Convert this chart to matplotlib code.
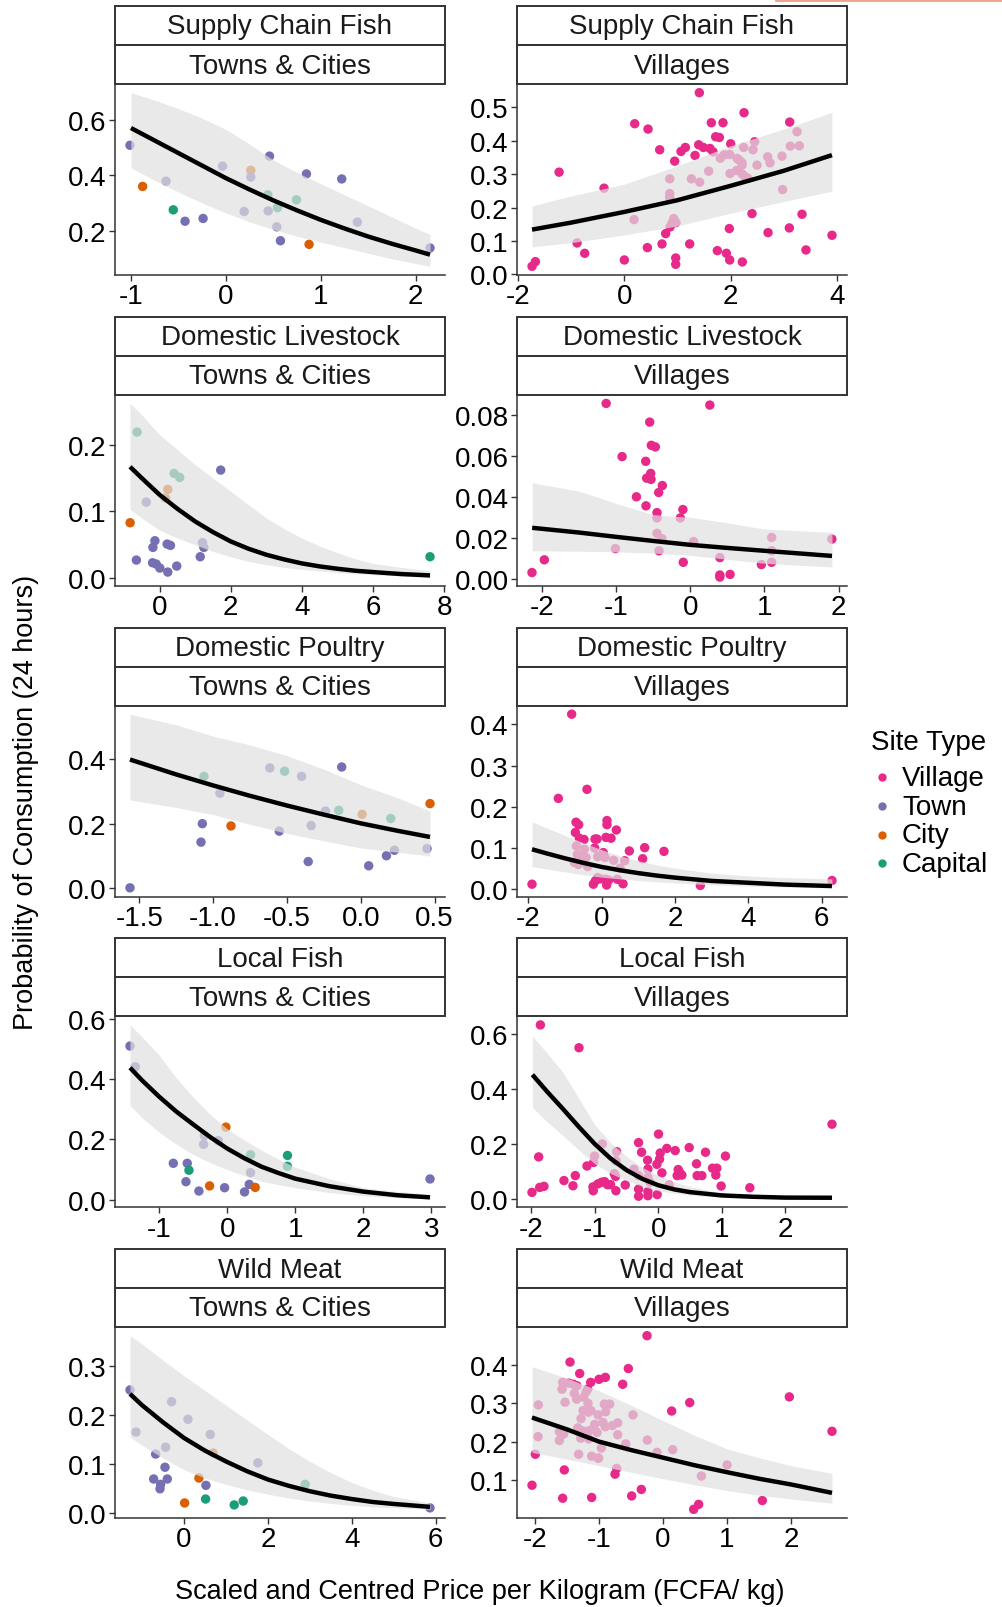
import matplotlib
matplotlib.use("Agg")
import matplotlib.pyplot as plt
from matplotlib.patches import Rectangle
from matplotlib.lines import Line2D

plt.rcParams['font.family'] = ['Liberation Sans', 'DejaVu Sans']

# ---------------- data ----------------
site_types = ['Village', 'Town', 'City', 'Capital']
site_colors = ['#E7298A', '#7570B3', '#D95F02', '#1B9E77']
food_groups = ['Supply Chain Fish', 'Domestic Livestock', 'Domestic Poultry', 'Local Fish', 'Wild Meat']
settlements = ['Towns & Cities', 'Villages']

# Supply Chain Fish - Towns & Cities
scf_tc_x = [-1.01, -0.877, -0.63, -0.554, -0.43, -0.24, -0.035, 0.193, 0.263, 0.263, 0.46, 0.442, 0.446,
            0.544, 0.537, 0.575, 0.744, 0.849, 0.877, 1.221, 1.386, 2.151]
scf_tc_y = [0.508, 0.36, 0.379, 0.276, 0.235, 0.245, 0.433, 0.27, 0.418, 0.394, 0.469, 0.33, 0.272,
            0.284, 0.215, 0.165, 0.312, 0.405, 0.152, 0.387, 0.232, 0.139]
scf_tc_site = ['Town', 'City', 'Town', 'Capital', 'Town', 'Town', 'Town', 'Town', 'City', 'Town', 'Town',
               'Capital', 'Town', 'Capital', 'Town', 'Town', 'Capital', 'Town', 'City', 'Town', 'Town', 'Town']
scf_tc_fx = [-1.0, -0.75, -0.5, -0.25, 0.0, 0.25, 0.5, 0.75, 1.0, 1.25, 1.5, 1.75, 2.0, 2.151]
scf_tc_fit = [0.570, 0.525, 0.48, 0.435, 0.39, 0.349, 0.31, 0.274, 0.24, 0.209, 0.18, 0.154, 0.13, 0.115]
scf_tc_lo = [0.427, 0.382, 0.34, 0.301, 0.265, 0.233, 0.205, 0.181, 0.16, 0.14, 0.12, 0.1, 0.083, 0.073]
scf_tc_hi = [0.697, 0.67, 0.64, 0.605, 0.565, 0.512, 0.455, 0.41, 0.37, 0.33, 0.29, 0.25, 0.21, 0.188]

# Supply Chain Fish - Villages
scf_v_x = [-1.739, -1.676, -1.23, -0.891, -0.747, -0.383, 0.0, 0.195, 0.182, 0.433, 0.446, 0.665, 0.709,
           0.778, 0.854, 0.854, 0.854, 0.86, 0.898, 0.929, 0.948, 0.967, 0.967, 0.973, 1.067, 1.149, 1.23,
           1.262, 1.331, 1.4, 1.419, 1.412, 1.488, 1.588, 1.613, 1.638, 1.67, 1.72, 1.751, 1.789, 1.808,
           1.858, 1.883, 1.921, 1.977, 1.984, 1.99, 1.984, 2.003, 2.116, 2.122, 2.166, 2.216, 2.216, 2.222,
           2.247, 2.254, 2.222, 2.279, 2.323, 2.404, 2.423, 2.454, 2.498, 2.699, 2.706, 2.743, 2.969, 2.982,
           3.107, 3.114, 3.126, 3.252, 3.296, 3.346, 3.421, 3.911]
scf_v_y = [0.024, 0.038, 0.306, 0.094, 0.063, 0.258, 0.043, 0.451, 0.164, 0.08, 0.435, 0.373, 0.091,
           0.122, 0.286, 0.242, 0.23, 0.142, 0.154, 0.167, 0.339, 0.049, 0.03, 0.155, 0.368, 0.38, 0.091,
           0.286, 0.356, 0.388, 0.276, 0.544, 0.38, 0.309, 0.377, 0.454, 0.367, 0.412, 0.071, 0.41, 0.348,
           0.454, 0.358, 0.063, 0.137, 0.359, 0.302, 0.043, 0.391, 0.311, 0.347, 0.342, 0.334, 0.327, 0.037,
           0.38, 0.484, 0.3, 0.292, 0.288, 0.182, 0.373, 0.397, 0.327, 0.352, 0.125, 0.334, 0.354, 0.254,
           0.139, 0.456, 0.384, 0.427, 0.385, 0.18, 0.073, 0.117]
scf_v_fx = [-1.74, -1.0, 0.0, 1.0, 2.0, 3.0, 3.91]
scf_v_fit = [0.134, 0.155, 0.187, 0.222, 0.265, 0.31, 0.357]
scf_v_lo = [0.082, 0.095, 0.118, 0.145, 0.183, 0.218, 0.249]
scf_v_hi = [0.205, 0.235, 0.27, 0.325, 0.385, 0.435, 0.485]

# Domestic Livestock - Towns & Cities
dl_tc_x = [-0.632, 1.719, 0.409, 0.567, 0.232, 0.167, -0.372, -0.827, -0.13, -0.186, -0.651, -0.195,
           -0.093, 0.009, 0.214, 0.307, 0.232, 0.483, 1.143, 1.208, 1.245, 7.6]
dl_tc_y = [0.219, 0.162, 0.157, 0.151, 0.133, 0.12, 0.114, 0.083, 0.056, 0.046, 0.027, 0.023,
           0.021, 0.015, 0.051, 0.049, 0.009, 0.018, 0.032, 0.053, 0.046, 0.032]
dl_tc_site = ['Capital', 'Town', 'Capital', 'Capital', 'City', 'City', 'Town', 'City', 'Town', 'Town', 'Town',
              'Town', 'Town', 'Town', 'Town', 'Town', 'Town', 'Town', 'Town', 'Town', 'Town', 'Capital']
dl_tc_fx = [-0.83, -0.5, 0.0, 0.5, 1.0, 1.5, 2.0, 2.5, 3.0, 3.5, 4.0, 4.5, 5.0, 5.5, 6.0, 6.8, 7.6]
dl_tc_fit = [0.167, 0.150, 0.125, 0.104, 0.085, 0.069, 0.055, 0.044, 0.035, 0.028, 0.022, 0.0175, 0.014,
             0.011, 0.009, 0.006, 0.004]
dl_tc_lo = [0.103, 0.09, 0.072, 0.06, 0.05, 0.04, 0.032, 0.025, 0.02, 0.016, 0.013, 0.0105, 0.008,
            0.0065, 0.005, 0.003, 0.0015]
dl_tc_hi = [0.262, 0.245, 0.215, 0.193, 0.17, 0.15, 0.13, 0.11, 0.09, 0.074, 0.06, 0.048, 0.038,
            0.029, 0.022, 0.016, 0.011]

# Domestic Livestock - Villages
dl_v_x = [-2.132, -1.966, -1.133, -0.918, -0.6, -0.725, -0.546, -0.524, -0.47, -0.533, -0.587, -0.528,
          -0.596, -0.376, -0.425, -0.448, -0.448, -0.448, -0.381, -0.421, -1.008, -0.099, -0.134, -0.094,
          0.045, 0.264, 0.399, 0.399, 0.399, 0.537, 0.958, 1.097, 1.097, 1.097, 1.908]
dl_v_y = [0.0033, 0.0095, 0.0857, 0.0598, 0.0575, 0.0402, 0.0766, 0.0653, 0.0645, 0.0516, 0.0493, 0.0487,
          0.0358, 0.0457, 0.0423, 0.0325, 0.0299, 0.0224, 0.0198, 0.0139, 0.015, 0.034, 0.0299, 0.0083,
          0.0184, 0.0849, 0.0106, 0.0021, 0.0011, 0.0024, 0.0072, 0.0204, 0.0139, 0.0083, 0.0196]
dl_v_fx = [-2.13, -1.5, -1.0, -0.5, 0.0, 0.5, 1.0, 1.91]
dl_v_fit = [0.0251, 0.0228, 0.0207, 0.0187, 0.0168, 0.0153, 0.0139, 0.0114]
dl_v_lo = [0.0139, 0.0137, 0.0134, 0.0128, 0.0117, 0.0098, 0.0078, 0.006]
dl_v_hi = [0.047, 0.043, 0.037, 0.0315, 0.0302, 0.0275, 0.0245, 0.0229]

# Domestic Poultry - Towns & Cities
dp_tc_x = [-1.563, -1.082, -1.073, -1.062, -0.954, -0.879, -0.616, -0.552, -0.516, -0.401, -0.356, -0.336,
           -0.239, -0.149, -0.129, 0.009, 0.054, 0.174, 0.203, 0.228, 0.449, 0.469]
dp_tc_y = [0.002, 0.143, 0.2, 0.346, 0.294, 0.193, 0.372, 0.177, 0.362, 0.346, 0.083, 0.194,
           0.239, 0.241, 0.375, 0.229, 0.07, 0.101, 0.216, 0.118, 0.123, 0.262]
dp_tc_site = ['Town', 'Town', 'Town', 'Capital', 'Town', 'City', 'Town', 'Town', 'Capital', 'Town', 'Town',
              'Town', 'Town', 'Capital', 'Town', 'City', 'Town', 'Town', 'Capital', 'Town', 'Town', 'City']
dp_tc_fx = [-1.563, -1.25, -1.0, -0.75, -0.5, -0.25, 0.0, 0.25, 0.469]
dp_tc_fit = [0.398, 0.352, 0.318, 0.286, 0.256, 0.228, 0.201, 0.178, 0.159]
dp_tc_lo = [0.273, 0.25, 0.228, 0.198, 0.17, 0.147, 0.125, 0.112, 0.1]
dp_tc_hi = [0.538, 0.505, 0.47, 0.443, 0.41, 0.368, 0.32, 0.28, 0.239]

# Domestic Poultry - Villages
dp_v_x = [-1.9, -0.818, -1.182, -0.4, -0.7, -0.627, -0.718, -0.609, -0.482, -0.691, -0.473, -0.664, -0.564,
          -0.427, -0.745, -0.636, -0.382, -0.182, -0.127, -0.191, -0.109, 0.045, 0.091, 0.145, 0.145, 0.118,
          0.255, 0.4, 0.327, 0.627, 0.5, 0.755, 1.173, 1.118, 1.7, -0.227, -0.173, -0.109, -0.036, 0.109,
          0.136, 0.191, 0.427, 0.582, 2.691, 6.282]
dp_v_y = [0.011, 0.425, 0.22, 0.242, 0.162, 0.156, 0.137, 0.123, 0.12, 0.104, 0.096, 0.083, 0.078,
          0.076, 0.064, 0.059, 0.054, 0.121, 0.121, 0.099, 0.078, 0.088, 0.076, 0.166, 0.156, 0.125,
          0.123, 0.143, 0.069, 0.068, 0.05, 0.092, 0.1, 0.073, 0.091, 0.011, 0.019, 0.027, 0.024, 0.023,
          0.009, 0.021, 0.023, 0.012, 0.008, 0.02]
dp_v_fx = [-1.9, -1.5, -1.0, -0.5, 0.0, 0.5, 1.0, 1.5, 2.0, 3.0, 4.0, 5.0, 6.28]
dp_v_fit = [0.096, 0.086, 0.074, 0.063, 0.053, 0.045, 0.038, 0.032, 0.027, 0.019, 0.0145, 0.010, 0.0065]
dp_v_lo = [0.054, 0.048, 0.041, 0.034, 0.028, 0.024, 0.02, 0.017, 0.014, 0.0095, 0.0065, 0.004, 0.0022]
dp_v_hi = [0.163, 0.148, 0.13, 0.112, 0.095, 0.08, 0.068, 0.058, 0.05, 0.038, 0.031, 0.027, 0.024]

# Local Fish - Towns & Cities
lf_tc_x = [-1.428, -1.35, -0.792, -0.587, -0.562, -0.606, -0.416, -0.337, -0.347, -0.132, -0.259, -0.039,
           -0.02, 0.254, 0.323, 0.342, 0.342, 0.411, 0.885, 0.885, 2.978]
lf_tc_y = [0.51, 0.441, 0.121, 0.121, 0.098, 0.06, 0.029, 0.213, 0.184, 0.196, 0.046, 0.04,
           0.241, 0.026, 0.051, 0.09, 0.149, 0.041, 0.147, 0.111, 0.069]
lf_tc_site = ['Town', 'Town', 'Town', 'Town', 'Capital', 'Town', 'Town', 'Town', 'Town', 'Town', 'City', 'Town',
              'City', 'Town', 'Town', 'Town', 'Capital', 'City', 'Capital', 'Capital', 'Town']
lf_tc_fx = [-1.428, -1.25, -1.0, -0.75, -0.5, -0.25, 0.0, 0.25, 0.5, 0.75, 1.0, 1.5, 2.0, 2.5, 2.978]
lf_tc_fit = [0.438, 0.396, 0.342, 0.293, 0.25, 0.208, 0.17, 0.138, 0.11, 0.089, 0.07, 0.045, 0.027, 0.015, 0.008]
lf_tc_lo = [0.313, 0.272, 0.224, 0.185, 0.15, 0.123, 0.1, 0.08, 0.062, 0.05, 0.04, 0.024, 0.013, 0.007, 0.004]
lf_tc_hi = [0.58, 0.54, 0.48, 0.405, 0.34, 0.283, 0.235, 0.198, 0.165, 0.135, 0.108, 0.07, 0.04, 0.027, 0.019]

# Local Fish - Villages
lf_v_x = [-1.99, -1.885, -1.858, -1.869, -1.801, -1.486, -1.344, -1.307, -1.249, -1.123, -1.029, -1.024,
          -1.018, -1.003, -0.95, -0.882, -0.892, -0.845, -0.798, -0.751, -0.693, -0.667, -0.667, -0.656,
          -0.672, -0.52, -0.383, -0.31, -0.31, -0.31, -0.31, -0.262, -0.168, -0.163, -0.163, -0.163, -0.163,
          -0.131, -0.021, 0.021, 0.031, 0.005, -0.016, 0.058, 0.136, 0.173, 0.268, 0.299, 0.315, 0.336,
          0.373, 0.488, 0.604, 0.614, 0.688, 0.745, 0.856, 0.924, 0.908, 0.992, 1.06, 1.444, 2.74]
lf_v_y = [0.024, 0.153, 0.633, 0.042, 0.046, 0.067, 0.048, 0.085, 0.55, 0.12, 0.044, 0.03,
          0.133, 0.156, 0.055, 0.2, 0.061, 0.063, 0.052, 0.052, 0.092, 0.03, 0.139, 0.172,
          0.082, 0.051, 0.108, 0.205, 0.085, 0.036, 0.01, 0.17, 0.141, 0.109, 0.079, 0.027, 0.012,
          0.061, 0.126, 0.145, 0.167, 0.236, 0.016, 0.095, 0.184, 0.051, 0.176, 0.085, 0.107, 0.097,
          0.087, 0.187, 0.128, 0.085, 0.085, 0.17, 0.112, 0.112, 0.087, 0.047, 0.156, 0.041, 0.272]
lf_v_fx = [-1.984, -1.75, -1.5, -1.25, -1.0, -0.75, -0.5, -0.25, 0.0, 0.25, 0.5, 1.0, 1.5, 2.0, 2.74]
lf_v_fit = [0.452, 0.39, 0.327, 0.262, 0.2, 0.147, 0.105, 0.073, 0.05, 0.035, 0.025, 0.013, 0.008, 0.005, 0.0045]
lf_v_lo = [0.333, 0.28, 0.23, 0.178, 0.128, 0.093, 0.067, 0.046, 0.03, 0.021, 0.014, 0.006, 0.003, 0.002, 0.0015]
lf_v_hi = [0.592, 0.53, 0.46, 0.365, 0.27, 0.205, 0.155, 0.115, 0.085, 0.062, 0.045, 0.022, 0.012, 0.008, 0.006]

# Wild Meat - Towns & Cities
wm_tc_x = [-1.286, -1.143, -0.675, -0.722, -0.571, -0.556, -0.452, -0.437, -0.397, -0.294, 0.095, 0.016,
           0.357, 0.524, 0.516, 0.627, 0.698, 1.198, 1.413, 1.762, 2.889, 5.865]
wm_tc_y = [0.251, 0.165, 0.12, 0.069, 0.049, 0.058, 0.093, 0.134, 0.069, 0.227, 0.191, 0.02,
           0.071, 0.056, 0.028, 0.16, 0.122, 0.016, 0.024, 0.102, 0.058, 0.01]
wm_tc_site = ['Town', 'Town', 'Town', 'Town', 'Town', 'Town', 'Town', 'Town', 'Town', 'Town', 'Town', 'City',
              'City', 'Town', 'Capital', 'Town', 'City', 'Capital', 'Capital', 'Town', 'Capital', 'Town']
wm_tc_fx = [-1.286, -1.0, -0.5, 0.0, 0.5, 1.0, 1.5, 2.0, 2.5, 3.0, 3.5, 4.0, 4.5, 5.0, 5.865]
wm_tc_fit = [0.243, 0.22, 0.185, 0.153, 0.127, 0.105, 0.085, 0.068, 0.055, 0.044, 0.035, 0.028, 0.022,
             0.018, 0.012]
wm_tc_lo = [0.155, 0.138, 0.112, 0.088, 0.071, 0.058, 0.047, 0.038, 0.03, 0.024, 0.019, 0.015, 0.012,
            0.01, 0.007]
wm_tc_hi = [0.362, 0.345, 0.312, 0.28, 0.25, 0.22, 0.19, 0.16, 0.131, 0.105, 0.082, 0.062, 0.046,
            0.033, 0.02]

# Wild Meat - Villages
wm_v_x = [-2.047, -1.995, -1.948, -1.953, -1.62, -1.62, -1.578, -1.568, -1.542, -1.531, -1.552, -1.568,
          -1.474, -1.453, -1.401, -1.385, -1.344, -1.349, -1.333, -1.318, -1.302, -1.281, -1.286, -1.255,
          -1.25, -1.24, -1.203, -1.198, -1.177, -1.172, -1.167, -1.161, -1.151, -1.13, -1.115, -1.115,
          -1.125, -1.068, -1.031, -1.016, -1.016, -1.0, -1.005, -0.964, -0.938, -0.917, -0.901, -0.896,
          -0.901, -0.833, -0.792, -0.724, -0.708, -0.708, -0.75, -0.63, -0.583, -0.542, -0.49, -0.469,
          -0.339, -0.25, -0.245, -0.094, 0.135, 0.151, 0.417, 0.479, 0.557, 0.599, 1.0, 1.552, 1.974, 2.64]
wm_v_y = [0.086, 0.167, 0.296, 0.213, 0.226, 0.203, 0.337, 0.355, 0.126, 0.303, 0.22, 0.052,
          0.353, 0.408, 0.35, 0.326, 0.346, 0.311, 0.236, 0.167, 0.378, 0.26, 0.209, 0.228,
          0.281, 0.316, 0.33, 0.224, 0.337, 0.3, 0.277, 0.207, 0.229, 0.355, 0.054, 0.162,
          0.281, 0.245, 0.224, 0.27, 0.157, 0.363, 0.157, 0.183, 0.25, 0.298, 0.368, 0.278,
          0.239, 0.298, 0.242, 0.13, 0.249, 0.218, 0.115, 0.35, 0.194, 0.391, 0.058, 0.27,
          0.075, 0.477, 0.204, 0.172, 0.28, 0.179, 0.302, 0.023, 0.036, 0.11, 0.139, 0.046, 0.317, 0.227]
wm_v_fx = [-2.047, -1.5, -1.0, -0.5, 0.0, 0.5, 1.0, 1.5, 2.0, 2.64]
wm_v_fit = [0.263, 0.232, 0.2, 0.178, 0.158, 0.138, 0.12, 0.103, 0.088, 0.066]
wm_v_lo = [0.172, 0.154, 0.137, 0.12, 0.103, 0.087, 0.072, 0.06, 0.05, 0.039]
wm_v_hi = [0.396, 0.366, 0.333, 0.295, 0.255, 0.216, 0.181, 0.158, 0.137, 0.117]

# axis ticks
scf_tc_xt, scf_tc_xl = [-1, 0, 1, 2], ['-1', '0', '1', '2']
scf_tc_yt, scf_tc_yl = [0.2, 0.4, 0.6], ['0.2', '0.4', '0.6']
scf_v_xt, scf_v_xl = [-2, 0, 2, 4], ['-2', '0', '2', '4']
scf_v_yt, scf_v_yl = [0, 0.1, 0.2, 0.3, 0.4, 0.5], ['0.0', '0.1', '0.2', '0.3', '0.4', '0.5']
dl_tc_xt, dl_tc_xl = [0, 2, 4, 6, 8], ['0', '2', '4', '6', '8']
dl_tc_yt, dl_tc_yl = [0, 0.1, 0.2], ['0.0', '0.1', '0.2']
dl_v_xt, dl_v_xl = [-2, -1, 0, 1, 2], ['-2', '-1', '0', '1', '2']
dl_v_yt, dl_v_yl = [0, 0.02, 0.04, 0.06, 0.08], ['0.00', '0.02', '0.04', '0.06', '0.08']
dp_tc_xt, dp_tc_xl = [-1.5, -1.0, -0.5, 0.0, 0.5], ['-1.5', '-1.0', '-0.5', '0.0', '0.5']
dp_tc_yt, dp_tc_yl = [0, 0.2, 0.4], ['0.0', '0.2', '0.4']
dp_v_xt, dp_v_xl = [-2, 0, 2, 4, 6], ['-2', '0', '2', '4', '6']
dp_v_yt, dp_v_yl = [0, 0.1, 0.2, 0.3, 0.4], ['0.0', '0.1', '0.2', '0.3', '0.4']
lf_tc_xt, lf_tc_xl = [-1, 0, 1, 2, 3], ['-1', '0', '1', '2', '3']
lf_tc_yt, lf_tc_yl = [0, 0.2, 0.4, 0.6], ['0.0', '0.2', '0.4', '0.6']
lf_v_xt, lf_v_xl = [-2, -1, 0, 1, 2], ['-2', '-1', '0', '1', '2']
lf_v_yt, lf_v_yl = [0, 0.2, 0.4, 0.6], ['0.0', '0.2', '0.4', '0.6']
wm_tc_xt, wm_tc_xl = [0, 2, 4, 6], ['0', '2', '4', '6']
wm_tc_yt, wm_tc_yl = [0, 0.1, 0.2, 0.3], ['0.0', '0.1', '0.2', '0.3']
wm_v_xt, wm_v_xl = [-2, -1, 0, 1, 2], ['-2', '-1', '0', '1', '2']
wm_v_yt, wm_v_yl = [0.1, 0.2, 0.3, 0.4], ['0.1', '0.2', '0.3', '0.4']

# ---------------- build panel table ----------------
panels = [
    (food_groups[0], settlements[0], scf_tc_x, scf_tc_y, scf_tc_site, scf_tc_fx, scf_tc_fit, scf_tc_lo, scf_tc_hi, scf_tc_xt, scf_tc_xl, scf_tc_yt, scf_tc_yl),
    (food_groups[0], settlements[1], scf_v_x, scf_v_y, None, scf_v_fx, scf_v_fit, scf_v_lo, scf_v_hi, scf_v_xt, scf_v_xl, scf_v_yt, scf_v_yl),
    (food_groups[1], settlements[0], dl_tc_x, dl_tc_y, dl_tc_site, dl_tc_fx, dl_tc_fit, dl_tc_lo, dl_tc_hi, dl_tc_xt, dl_tc_xl, dl_tc_yt, dl_tc_yl),
    (food_groups[1], settlements[1], dl_v_x, dl_v_y, None, dl_v_fx, dl_v_fit, dl_v_lo, dl_v_hi, dl_v_xt, dl_v_xl, dl_v_yt, dl_v_yl),
    (food_groups[2], settlements[0], dp_tc_x, dp_tc_y, dp_tc_site, dp_tc_fx, dp_tc_fit, dp_tc_lo, dp_tc_hi, dp_tc_xt, dp_tc_xl, dp_tc_yt, dp_tc_yl),
    (food_groups[2], settlements[1], dp_v_x, dp_v_y, None, dp_v_fx, dp_v_fit, dp_v_lo, dp_v_hi, dp_v_xt, dp_v_xl, dp_v_yt, dp_v_yl),
    (food_groups[3], settlements[0], lf_tc_x, lf_tc_y, lf_tc_site, lf_tc_fx, lf_tc_fit, lf_tc_lo, lf_tc_hi, lf_tc_xt, lf_tc_xl, lf_tc_yt, lf_tc_yl),
    (food_groups[3], settlements[1], lf_v_x, lf_v_y, None, lf_v_fx, lf_v_fit, lf_v_lo, lf_v_hi, lf_v_xt, lf_v_xl, lf_v_yt, lf_v_yl),
    (food_groups[4], settlements[0], wm_tc_x, wm_tc_y, wm_tc_site, wm_tc_fx, wm_tc_fit, wm_tc_lo, wm_tc_hi, wm_tc_xt, wm_tc_xl, wm_tc_yt, wm_tc_yl),
    (food_groups[4], settlements[1], wm_v_x, wm_v_y, None, wm_v_fx, wm_v_fit, wm_v_lo, wm_v_hi, wm_v_xt, wm_v_xl, wm_v_yt, wm_v_yl),
]

color_of = dict(zip(site_types, site_colors))

W, H = 1003, 1608
fig = plt.figure(figsize=(W / 100, H / 100), dpi=100)
col_x = [115, 517]
ax_w = 330
strip_h = 39
edge = '#333333'
fs = 20

for i, (grp, sett, xs, ys, sites, fx, fit, lo, hi, xt, xl, yt, yl) in enumerate(panels):
    r, c = divmod(i, 2)
    top = 85 + 310.75 * r
    bot = top + 191
    x0 = col_x[c]
    ax = fig.add_axes([x0 / W, 1 - bot / H, ax_w / W, (bot - top) / H])
    if sites is None:
        cols = [color_of['Village']] * len(xs)
    else:
        cols = [color_of[s] for s in sites]
    ax.scatter(xs, ys, s=46, c=cols, linewidths=0, zorder=2)
    ax.fill_between(fx, lo, hi, color='#E0E0E0', alpha=0.7, linewidth=0, zorder=3)
    ax.plot(fx, fit, color='black', lw=3.2, zorder=4, solid_capstyle='butt', solid_joinstyle='round')
    ax.margins(0.05)
    ax.set_xticks(xt)
    ax.set_xticklabels(xl)
    ax.set_yticks(yt)
    ax.set_yticklabels(yl)
    for s in ['top', 'right']:
        ax.spines[s].set_visible(False)
    for s in ['left', 'bottom']:
        ax.spines[s].set_color(edge)
        ax.spines[s].set_linewidth(1.1)
    ax.tick_params(axis='both', direction='out', length=4, width=1.0, color=edge,
                   labelsize=fs, labelcolor='black', pad=2)
    ax.set_facecolor('white')
    # strips
    for k, label in enumerate([grp, sett]):
        y_top = top - strip_h * (2 - k)
        rect = Rectangle((x0 / W, 1 - (y_top + strip_h) / H), ax_w / W, strip_h / H,
                         transform=fig.transFigure, facecolor='white', edgecolor=edge, lw=1.4)
        fig.add_artist(rect)
        fig.text((x0 + ax_w / 2) / W, 1 - (y_top + strip_h / 2 + 1) / H, label,
                 ha='center', va='center', fontsize=fs, color='#1A1A1A')

# axis titles
fig.text(480 / W, 1 - 1592 / H, 'Scaled and Centred Price per Kilogram (FCFA/ kg)',
         ha='center', va='center', fontsize=19.5)
fig.text(26 / W, 1 - 802 / H, 'Probability of Consumption (24 hours)',
         ha='center', va='center', rotation=90, fontsize=19.5)

# legend
fig.text(871 / W, 1 - 743 / H, 'Site Type', ha='left', va='center', fontsize=20)
leg_y = [778, 807, 835.5, 864]
for name, col, yy in zip(site_types, site_colors, leg_y):
    fig.add_artist(Line2D([882 / W], [1 - yy / H], marker='o', markersize=6, color=col,
                          markeredgewidth=0, linestyle='None', transform=fig.transFigure))
    fig.text(902 / W, 1 - (yy + 1) / H, name, ha='left', va='center', fontsize=20)

# thin orange mark at top-right of the reference image
fig.add_artist(Line2D([776 / W, 1.0], [1 - 1.2 / H, 1 - 1.2 / H], color='#E9A58A', lw=2.0,
                      transform=fig.transFigure))

fig.savefig('out.png', dpi=100, facecolor='white')
